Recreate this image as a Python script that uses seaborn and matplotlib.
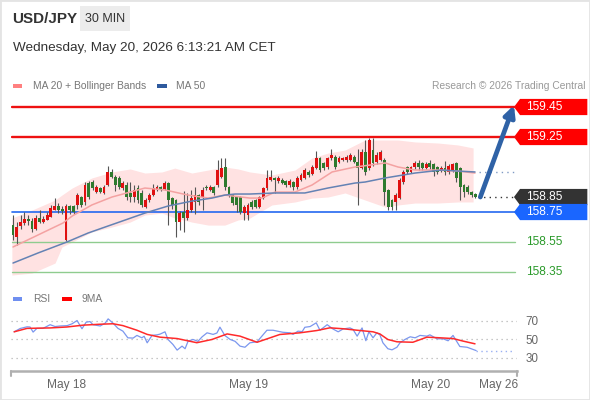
import numpy as np
import seaborn as sns
import matplotlib.pyplot as plt
from matplotlib.patches import Polygon, Rectangle
from matplotlib.transforms import blended_transform_factory

# USD/JPY 30 min candles
opens = [158.665, 158.585, 158.655, 158.680, 158.705, 158.690, 158.635, 158.710, 158.685, 158.700,
         158.720, 158.765, 158.790, 158.770, 158.565, 158.790, 158.790, 158.795, 158.850, 158.815,
         158.945, 158.950, 158.885, 158.910, 158.875, 158.930, 159.015, 158.985, 158.975, 158.910,
         158.930, 158.877, 158.850, 158.910, 158.877, 158.783, 158.830, 158.863, 158.897, 158.917,
         158.905, 158.943, 158.843, 158.830, 158.683, 158.750, 158.710, 158.763, 158.817, 158.863,
         158.850, 158.917, 158.897, 158.917, 158.930, 158.983, 159.050, 158.917, 158.863, 158.850,
         158.850, 158.743, 158.730, 158.817, 158.830, 158.783, 158.843, 158.910, 158.963, 158.977,
         158.957, 158.963, 158.957, 158.930, 158.950, 158.917, 158.963, 158.977, 159.017, 159.003,
         159.043, 159.110, 159.077, 159.050, 159.110, 159.117, 159.083, 159.097, 159.097, 159.097,
         159.117, 159.083, 159.043, 159.150, 159.043, 159.163, 159.083, 159.097, 159.097, 158.897,
         158.830, 158.817, 158.843, 158.950, 159.050, 159.017, 159.050, 159.077, 159.077, 159.043,
         159.077, 159.070, 159.050, 159.023, 159.043, 159.017, 159.030, 159.077, 159.043, 158.930,
         158.917, 158.883, 158.870]
highs = [158.730, 158.685, 158.730, 158.750, 158.730, 158.710, 158.730, 158.765, 158.725, 158.750,
         158.795, 158.845, 158.810, 158.790, 158.805, 158.800, 158.800, 158.880, 158.860, 158.950,
         158.960, 158.965, 158.930, 158.920, 158.930, 159.060, 159.035, 159.000, 158.990, 158.960,
         158.950, 158.950, 158.930, 158.930, 158.895, 158.845, 158.880, 158.935, 158.930, 158.925,
         158.960, 158.950, 158.850, 158.840, 158.760, 158.890, 158.880, 158.900, 158.920, 158.870,
         158.917, 158.930, 158.930, 158.925, 159.097, 159.110, 159.110, 158.925, 158.870, 158.860,
         158.860, 158.800, 158.810, 158.830, 158.840, 158.860, 158.920, 159.030, 159.030, 158.985,
         158.990, 158.975, 158.965, 158.970, 158.960, 158.990, 159.010, 159.045, 159.030, 159.065,
         159.160, 159.120, 159.085, 159.120, 159.170, 159.130, 159.125, 159.120, 159.130, 159.145,
         159.130, 159.170, 159.170, 159.230, 159.243, 159.245, 159.150, 159.165, 159.110, 158.905,
         158.840, 158.875, 158.975, 159.030, 159.060, 159.060, 159.090, 159.100, 159.085, 159.085,
         159.100, 159.080, 159.060, 159.055, 159.090, 159.070, 159.080, 159.085, 159.050, 158.940,
         158.930, 158.890, 158.880]
lows = [158.565, 158.530, 158.640, 158.665, 158.665, 158.615, 158.630, 158.675, 158.675, 158.695,
        158.715, 158.765, 158.745, 158.740, 158.555, 158.740, 158.740, 158.770, 158.785, 158.800,
        158.840, 158.900, 158.875, 158.875, 158.870, 158.925, 158.975, 158.890, 158.905, 158.900,
        158.830, 158.817, 158.820, 158.810, 158.785, 158.775, 158.820, 158.855, 158.890, 158.890,
        158.895, 158.663, 158.770, 158.583, 158.630, 158.617, 158.700, 158.750, 158.740, 158.800,
        158.763, 158.895, 158.890, 158.865, 158.920, 158.975, 158.900, 158.850, 158.800, 158.750,
        158.740, 158.697, 158.697, 158.770, 158.775, 158.775, 158.835, 158.900, 158.955, 158.877,
        158.945, 158.935, 158.920, 158.920, 158.897, 158.905, 158.955, 158.970, 158.985, 158.995,
        159.035, 159.015, 159.030, 159.040, 159.100, 159.040, 159.075, 159.090, 159.085, 159.090,
        159.075, 158.797, 159.035, 158.997, 159.030, 159.060, 159.070, 159.090, 158.797, 158.763,
        158.763, 158.763, 158.835, 158.940, 159.005, 159.010, 159.040, 159.030, 159.030, 159.035,
        159.040, 158.990, 159.005, 159.015, 158.997, 159.005, 159.020, 158.950, 158.830, 158.850,
        158.870, 158.850, 158.845]
closes = [158.600, 158.650, 158.685, 158.705, 158.690, 158.635, 158.710, 158.685, 158.705, 158.730,
          158.775, 158.790, 158.765, 158.760, 158.790, 158.765, 158.750, 158.865, 158.797, 158.930,
          158.850, 158.910, 158.915, 158.885, 158.915, 159.015, 158.985, 158.930, 158.915, 158.945,
          158.850, 158.850, 158.897, 158.830, 158.797, 158.830, 158.863, 158.910, 158.917, 158.897,
          158.943, 158.830, 158.797, 158.683, 158.743, 158.710, 158.763, 158.843, 158.863, 158.817,
          158.897, 158.910, 158.917, 158.877, 159.030, 159.043, 158.917, 158.863, 158.810, 158.797,
          158.750, 158.783, 158.797, 158.783, 158.783, 158.850, 158.910, 158.977, 158.983, 158.963,
          158.977, 158.943, 158.930, 158.957, 158.917, 158.977, 158.997, 159.030, 158.997, 159.050,
          159.110, 159.030, 159.043, 159.110, 159.130, 159.050, 159.110, 159.110, 159.117, 159.130,
          159.083, 159.043, 159.150, 159.017, 159.230, 159.077, 159.130, 159.150, 158.883, 158.783,
          158.783, 158.863, 158.963, 159.017, 159.017, 159.050, 159.077, 159.050, 159.043, 159.070,
          159.050, 159.017, 159.017, 159.043, 159.017, 159.057, 159.070, 158.977, 158.917, 158.883,
          158.883, 158.863, 158.850]

# moving averages / bollinger (x in bar number)
ma20_x = [0, 6.6, 13.2, 15.6, 20.8, 26.1, 30.9, 34.8, 40.1, 46.2, 51.5, 55.9, 62.5, 65.7, 69.1, 74.4,
          78.9, 84.2, 90.2, 94.2, 98.2, 101.6, 106.1, 112.1, 117.4, 121.9]
ma20 = [158.517, 158.597, 158.677, 158.723, 158.797, 158.850, 158.883, 158.910, 158.897, 158.863,
        158.843, 158.863, 158.843, 158.843, 158.883, 158.883, 158.930, 159.017, 159.050, 159.063,
        159.077, 159.050, 159.030, 159.030, 159.023, 159.010]
ma50_x = [0, 6.6, 14.2, 19.8, 24.3, 30.3, 34.8, 40.9, 47.2, 52.5, 55.9, 58.6, 62.5, 69.1, 77.0, 83.1,
          90.2, 92.9, 98.2, 106.1, 113.2, 117.4, 121.9]
ma50 = [158.410, 158.477, 158.550, 158.610, 158.650, 158.703, 158.743, 158.790, 158.823, 158.843,
        158.863, 158.870, 158.870, 158.877, 158.877, 158.910, 158.943, 158.950, 158.977, 159.010,
        159.030, 159.023, 159.017]
bb_x = [-0.3, 5.0, 11.1, 12.9, 15.6, 20.8, 26.1, 30.9, 34.8, 39.3, 42.7, 47.2, 51.5, 55.9, 59.4, 62.5,
        68.3, 74.4, 78.9, 83.1, 87.6, 92.9, 98.2, 101.6, 106.1, 112.1, 117.4, 121.4]
bb_upper = [158.710, 158.763, 158.830, 158.863, 158.910, 158.977, 159.017, 159.037, 159.010, 159.017,
            159.043, 159.010, 159.030, 159.050, 159.037, 159.017, 158.997, 159.030, 159.110, 159.143,
            159.163, 159.230, 159.230, 159.230, 159.217, 159.210, 159.197, 159.177]
bb_lower = [158.330, 158.343, 158.410, 158.517, 158.550, 158.617, 158.650, 158.683, 158.730, 158.743,
            158.710, 158.683, 158.663, 158.663, 158.697, 158.710, 158.797, 158.817, 158.843, 158.850,
            158.877, 158.830, 158.783, 158.797, 158.810, 158.810, 158.817, 158.817]

# RSI + 9MA
rsi_x = [0.3, 1.9, 3.7, 4.5, 5.3, 6.3, 7.9, 9.8, 11.1, 12.4, 14.3, 15.6, 16.9, 18.2, 19.3, 20.3,
         21.1, 23.0, 24.3, 25.1, 26.4, 27.7, 29.0, 30.3, 31.7, 32.7, 34.0, 34.6, 35.4, 36.7, 38.0,
         38.8, 40.1, 40.9, 42.2, 43.3, 44.6, 45.4, 46.2, 47.5, 48.8, 49.9, 51.2, 52.8, 53.8, 54.6,
         55.9, 57.3, 58.6, 59.9, 61.2, 62.5, 64.4, 67.0, 68.6, 71.2, 73.1, 73.9, 75.2, 76.3, 77.0,
         78.4, 80.0, 81.0, 82.9, 84.4, 85.8, 87.1, 88.9, 89.7, 90.8, 92.1, 93.1, 93.9, 95.0, 96.0,
         96.8, 97.6, 98.9, 100.0, 101.3, 102.1, 103.4, 104.8, 106.1, 107.4, 109.2, 110.0, 111.9,
         113.5, 114.8, 116.1, 117.9, 119.8, 122.2]
rsi = [58.3, 61.9, 63.7, 63.5, 58, 62, 62, 66, 64, 64.6, 65, 67, 70.5, 61.6, 68.7, 69.4, 66, 64.6,
       67.6, 72.3, 67.6, 62, 59, 51.8, 51.5, 54.4, 51.8, 53.5, 46.4, 54.5, 55, 55.8, 58.3, 50, 44.6,
       38.5, 42.8, 40, 48.2, 50, 48, 52.9, 57.2, 55.5, 57, 63.3, 54.3, 50, 48, 42.8, 41.6, 46.4, 47.5,
       60, 60, 57.8, 57.2, 55.5, 59, 58.5, 63.2, 64, 68, 60, 66, 61.4, 58.3, 61.4, 62.5, 61, 53.6, 62.5,
       48.7, 58.3, 51.8, 57.2, 55, 46.4, 40, 38.8, 41.6, 46.4, 50, 52.9, 51.8, 54.4, 53.6, 55, 50.7,
       50.7, 48.6, 54.4, 42.4, 41.6, 38]
ma9_x = [0.3, 3.7, 9.8, 14.2, 18.5, 23.0, 26.4, 29.0, 32.7, 35.4, 38.8, 43.3, 48.5, 52.5, 56.5, 59.9,
         64.4, 70.4, 75.7, 80.2, 83.6, 87.1, 90.8, 95.0, 96.8, 98.9, 101.3, 105.5, 109.2, 112.7,
         116.1, 118.7, 121.9]
ma9 = [58.3, 62, 62.5, 63.5, 65.5, 66.5, 67, 65, 60, 55.5, 52.5, 51, 46.5, 50, 56, 53.6, 47, 55.4,
       57.2, 59.7, 62.6, 61.6, 60, 58.3, 56, 50, 47.5, 47, 52.5, 51.8, 51, 48.3, 45.3]

# levels
target_levels = [159.45, 159.25]
pivot_level = 158.75
support_levels = [158.55, 158.35]
last_price = 158.85

tick_pos = [14.2, 62.2, 110.2, 128.0]
tick_labels = ['May 18', 'May 19', 'May 20', 'May 26']

sns.set_style('white')
plt.rcParams['font.family'] = ['Liberation Sans', 'DejaVu Sans']

W, H = 590, 400
fig = plt.figure(figsize=(W / 100, H / 100), dpi=100)


def fx(px):
    return px / W


def fy(py):
    return 1 - py / H


XLIM = (-0.53, 132.98)
ax = fig.add_axes([fx(11), fy(283), fx(506), 188 / H])
ax.set_xlim(*XLIM)
ax.set_ylim(158.277, 159.530)
ax.axis('off')
x_edge = XLIM[0] + 0.994 * (XLIM[1] - XLIM[0])

# bollinger + MAs
ax.fill_between(bb_x, bb_lower, bb_upper, color='#ffe2e2', lw=0, zorder=1)
sns.lineplot(x=ma20_x, y=ma20, ax=ax, color='#f4a2a2', lw=1.1, zorder=5)
sns.lineplot(x=ma50_x, y=ma50, ax=ax, color='#6482b4', lw=1.1, zorder=5)

# candles
idx = np.arange(len(closes))
o = np.array(opens)
c = np.array(closes)
cols = np.where(c >= o, '#e01010', '#2e7a2e')
ax.vlines(idx, lows, highs, color='#555555', lw=0.8, zorder=3)
ax.bar(idx, np.maximum(np.abs(c - o), 0.005), bottom=np.minimum(o, c), width=0.75,
       color=cols, lw=0, zorder=4)

# levels
for v in target_levels:
    ax.axhline(v, xmin=0.002, xmax=0.996, color='#ee1111', lw=1.7, zorder=2)
ax.axhline(pivot_level, xmin=0.002, xmax=0.996, color='#2468f0', lw=1.2, zorder=2)
for v in support_levels:
    ax.axhline(v, xmin=0.002, xmax=0.996, color='#8fcc8f', lw=1.0, zorder=2)

ax.hlines(last_price, idx[-1] + 0.6, x_edge, color='#333333', lw=1.0, linestyles=(0, (1, 3)))
ax.hlines(ma50[-1], ma50_x[-1] + 1, x_edge, color='#7f9ac4', lw=1.0, linestyles=(0, (1, 3)))

ax.annotate('', xy=(x_edge, target_levels[0] + 0.012), xytext=(idx[-1] + 1.3, last_price),
            arrowprops=dict(arrowstyle='-|>', color='#2f62a6', lw=3.4, mutation_scale=16,
                            shrinkA=0, shrinkB=0), zorder=6)

# right tags
tr = blended_transform_factory(ax.transAxes, ax.transData)
hh = 0.054


def tag(v, color, boxed=True):
    if boxed:
        pts = [(0.994, v), (1.006, v + hh), (1.139, v + hh), (1.139, v - hh), (1.006, v - hh)]
        ax.add_patch(Polygon(pts, closed=True, transform=tr, color=color, lw=0, clip_on=False))
        tc = 'white'
    else:
        tc = color
    ax.text(1.0185, v, f'{v:.2f}', transform=tr, color=tc, fontsize=8.6, va='center', ha='left')


for v in target_levels:
    tag(v, '#ff0000')
tag(last_price, '#333333')
tag(pivot_level, '#1a66ff')
for v in support_levels:
    tag(v, '#2a9a2a', boxed=False)

# RSI panel
rax = fig.add_axes([fx(11), fy(371), fx(506), 66 / H])
rax.set_xlim(*XLIM)
rax.set_ylim(15.9, 87.3)
for v in [30, 50, 70]:
    rax.axhline(v, color='#b5b5b5', lw=0.9, ls=(0, (1, 3)), zorder=1)
sns.lineplot(x=rsi_x, y=rsi, ax=rax, color='#7b97ee', lw=0.9, zorder=3)
sns.lineplot(x=ma9_x, y=ma9, ax=rax, color='#ff2a2a', lw=1.1, zorder=4)
rax.hlines(rsi[-1], rsi_x[-1], x_edge, color='#9ab0f2', lw=1.0, linestyles=(0, (1, 2.5)))
for s in ['top', 'left', 'right']:
    rax.spines[s].set_visible(False)
rax.spines['bottom'].set_color('#b0b0b0')
rax.spines['bottom'].set_linewidth(1.8)
for xa in [0, 1]:
    rax.plot([xa, xa], [0, -0.08], transform=rax.transAxes, color='#b0b0b0', lw=1.5, clip_on=False)
rax.set_xticks(tick_pos, tick_labels)
rax.yaxis.tick_right()
rax.set_yticks([30, 50, 70])
rax.tick_params(axis='x', length=0, pad=6, labelsize=8.6, labelcolor='#666666')
rax.tick_params(axis='y', length=0, pad=6, labelsize=8.4, labelcolor='#666666')
rax.set_xlabel('')
rax.set_ylabel('')

# header
fig.add_artist(Rectangle((0, 0), 1, 1, transform=fig.transFigure, fill=False, ec='#e4e4e4', lw=2))
fig.add_artist(Rectangle((fx(80), fy(31)), fx(50), 25 / H, transform=fig.transFigure,
                         color='#ececec', lw=0))
fig.text(fx(12), fy(19), 'USD/JPY', fontsize=11, fontweight='bold', color='#333333', va='center')
fig.text(fx(105), fy(19), '30 MIN', fontsize=9, color='#333333', va='center', ha='center')
fig.text(fx(13), fy(48), 'Wednesday, May 20, 2026 6:13:21 AM CET', fontsize=9.7, color='#333333',
         va='center')

# legends
fig.add_artist(Rectangle((fx(13), fy(88)), fx(9), 4 / H, transform=fig.transFigure,
                         color='#ff8080', lw=0))
fig.text(fx(33), fy(86), 'MA 20 + Bollinger Bands', fontsize=7.4, color='#777777', va='center')
fig.add_artist(Rectangle((fx(157), fy(88)), fx(10), 4 / H, transform=fig.transFigure,
                         color='#2e5a9e', lw=0))
fig.text(fx(176), fy(86), 'MA 50', fontsize=7.4, color='#777777', va='center')
fig.text(fx(585), fy(86), 'Research \u00a9 2026 Trading Central', fontsize=7.4, color='#999999',
         va='center', ha='right')

fig.add_artist(Rectangle((fx(13), fy(301)), fx(9), 4 / H, transform=fig.transFigure,
                         color='#6f8ff0', lw=0))
fig.text(fx(33), fy(299), 'RSI', fontsize=7.4, color='#777777', va='center')
fig.add_artist(Rectangle((fx(62), fy(301)), fx(10), 4 / H, transform=fig.transFigure,
                         color='#ff0000', lw=0))
fig.text(fx(82), fy(299), '9MA', fontsize=7.4, color='#777777', va='center')

plt.savefig('out.png', dpi=100)
plt.close()
